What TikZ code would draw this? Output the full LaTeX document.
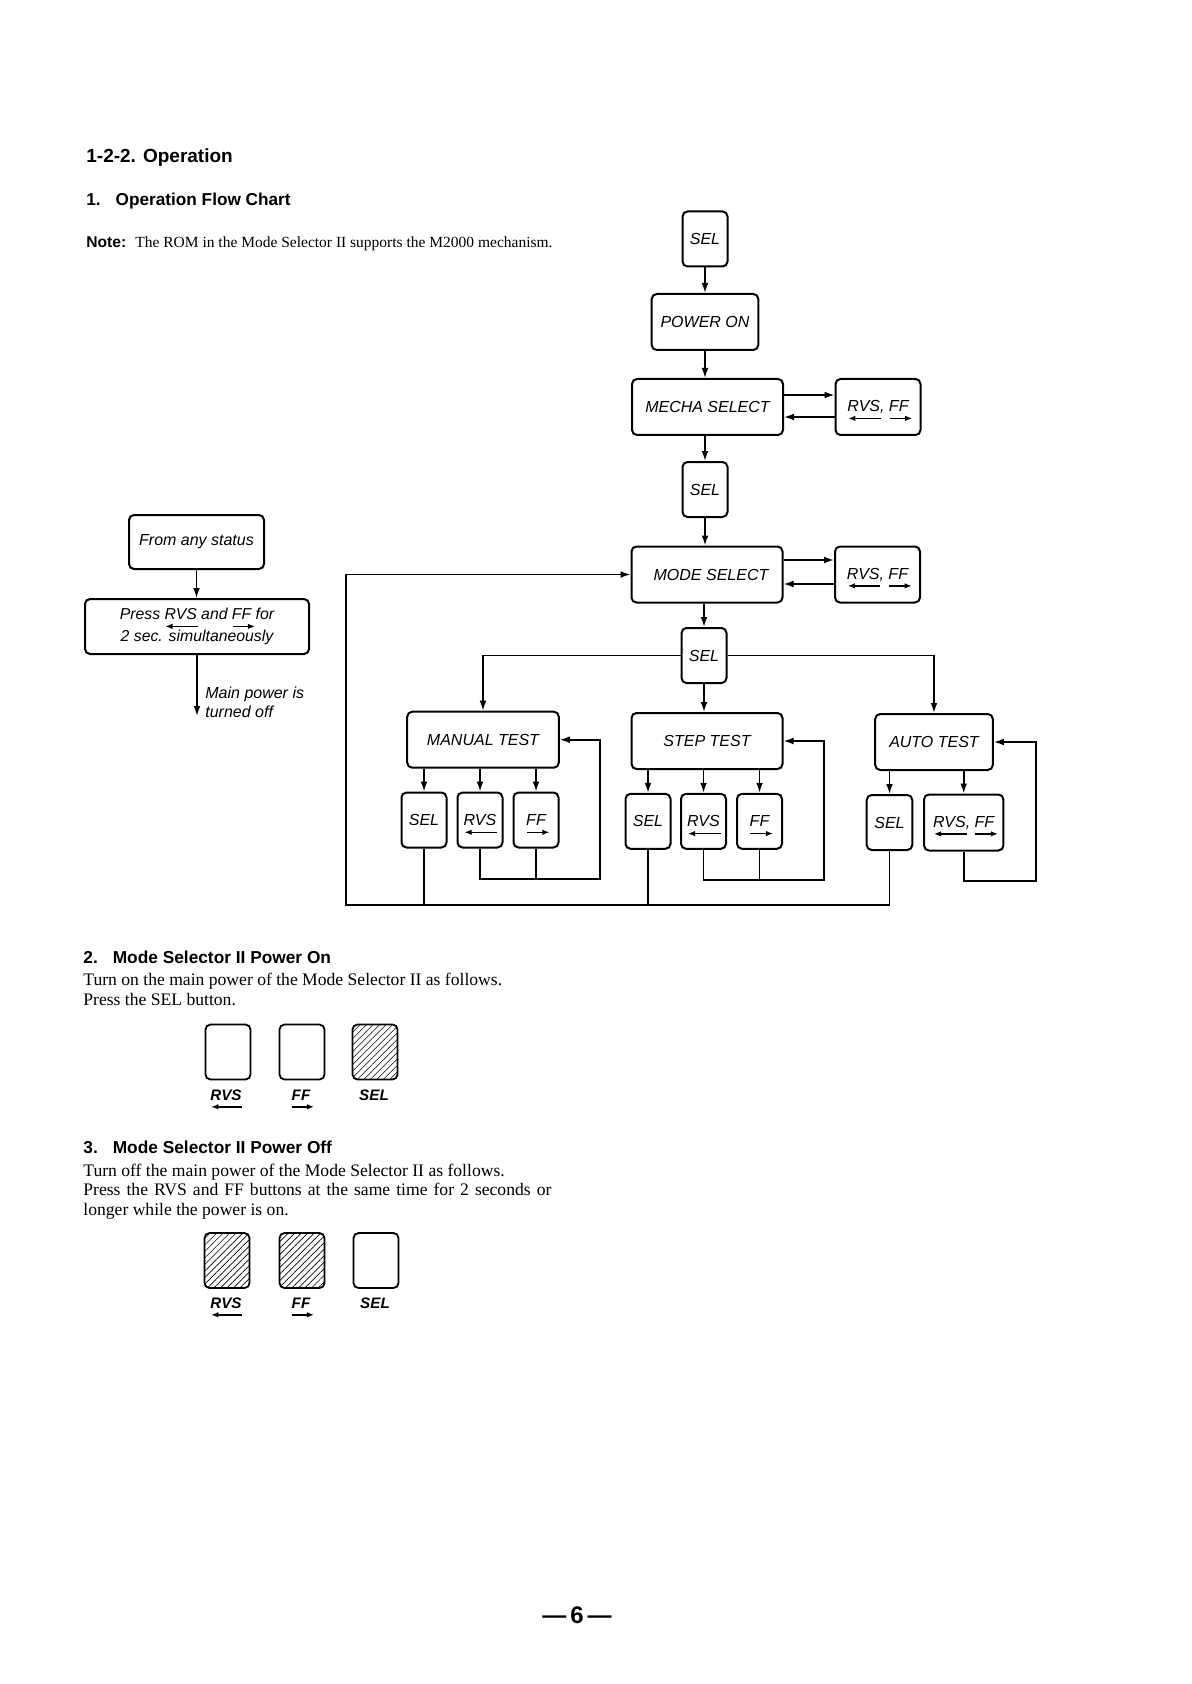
\documentclass[tikz,border=0pt]{standalone}
\usepackage{fontspec}
\setmainfont{Liberation Serif}
\setsansfont{Liberation Sans}
\usetikzlibrary{arrows.meta,patterns.meta,calc}
\newlength\arrlen
\newcommand\ulL[1]{\settowidth\arrlen{#1}\rlap{\smash{\raisebox{-3.4pt}{\tikz[baseline=0pt]\draw[{Latex[length=3.6pt,width=2.8pt]}-,line width=0.75pt] (0pt,0pt) -- (\arrlen,0pt);}}}#1}
\newcommand\ulR[1]{\settowidth\arrlen{#1}\rlap{\smash{\raisebox{-3.4pt}{\tikz[baseline=0pt]\draw[-{Latex[length=3.6pt,width=2.8pt]},line width=0.75pt] (0pt,0pt) -- (\arrlen+1.5pt,0pt);}}}#1}
\begin{document}
\begin{tikzpicture}[x=0.5pt,y=-0.5pt,
  box/.style={draw, rounded corners=2.5pt, line width=1pt, inner sep=0pt, align=center,
    font=\sffamily\itshape\fontsize{8}{10}\selectfont},
  selbox/.style={box, minimum width=22.5pt, minimum height=27.5pt},
  bigbox/.style={box, minimum width=75.5pt, minimum height=28pt},
  btn/.style={draw, rounded corners=2.5pt, line width=0.9pt, minimum width=22.5pt, minimum height=27.5pt, inner sep=0pt},
  hatched/.style={pattern={Lines[angle=45,distance=2.3pt,line width=0.3pt]}},
  lbl/.style={anchor=base, inner sep=0pt, font=\sffamily\bfseries\itshape\fontsize{7.6}{9}\selectfont},
  arr/.style={-{Latex[length=5pt,width=3.4pt]}, line width=0.8pt},
  ln/.style={line width=0.8pt},
  head/.style={anchor=base west, inner sep=0pt, font=\sffamily\bfseries\fontsize{8.6}{10}\selectfont},
  body/.style={anchor=base west, inner sep=0pt, font=\rmfamily\fontsize{8.8}{10}\selectfont}
]
\useasboundingbox (0,0) rectangle (1191,1684);
\fill[white] (0,0) rectangle (1191,1684);

% ---- headings ----
\node[head, font=\sffamily\bfseries\fontsize{9.5}{11}\selectfont] (h1) at (86,163) {1-2-2. Operation};
\node[head] (h2) at (86,206) {1.\hspace{7.5pt}Operation Flow Chart};
\node[anchor=base west, inner sep=0pt, font=\sffamily\bfseries\fontsize{7.8}{9}\selectfont] (note) at (86,248) {Note:};
\node[anchor=base west, inner sep=0pt, font=\rmfamily\fontsize{7.75}{9}\selectfont] (notetxt) at (135,248) {The ROM in the Mode Selector II supports the M2000 mechanism.};

% ---- main column ----
\node[selbox] (sel1) at (705,239) {SEL};
\node[box, minimum width=53.3pt, minimum height=28pt] (pwr) at (705,322) {POWER ON};
\node[bigbox] (mecha) at (707.5,407) {MECHA SELECT};
\node[box, minimum width=42.5pt, minimum height=28pt] (rf1) at (878,407) {\ulL{RVS}, \ulR{FF}};
\node[selbox] (sel2) at (705,489.5) {SEL};
\node[bigbox] (mode) at (707,574.5) {\hspace{4pt}MODE SELECT};
\node[box, minimum width=42.5pt, minimum height=28pt] (rf2) at (877.5,574.5) {\ulL{RVS}, \ulR{FF}};
\node[selbox] (sel3) at (704,655.5) {SEL};

\node[bigbox, minimum width=75.8pt] (manual) at (483,739.7) {MANUAL TEST};
\node[bigbox] (step) at (707,741) {STEP TEST};
\node[box, minimum width=58.8pt, minimum height=28pt] (auto) at (934,742) {AUTO TEST};

\node[selbox] (mSel) at (424,820) {SEL};
\node[selbox] (mRvs) at (480,820) {\ulL{RVS}};
\node[selbox] (mFF) at (536,820) {\ulR{FF}};
\node[selbox] (sSel) at (648,821.3) {SEL};
\node[selbox] (sRvs) at (703.5,821.3) {\ulL{RVS}};
\node[selbox] (sFF) at (759.5,821.3) {\ulR{FF}};
\node[selbox, minimum width=22.8pt] (aSel) at (889.5,822.5) {SEL};
\node[box, minimum width=39.7pt, minimum height=28pt] (aRF) at (963.7,822.5) {\ulL{RVS}, \ulR{FF}};

% main arrows
\draw[arr] (sel1.south) -- (sel1.south |- pwr.north);
\draw[arr] (pwr.south) -- (pwr.south |- mecha.north);
\draw[arr] (sel2.north |- mecha.south) -- (sel2.north);
\draw[arr] (sel2.south) -- (sel2.south |- mode.north);
\draw[arr] (sel3.north |- mode.south) -- (sel3.north);
\draw[arr] (sel3.south) -- (sel3.south |- step.north);
\draw[arr] (mecha.east |- 0,395) -- (rf1.west |- 0,395);
\draw[arr] (rf1.west |- 0,417) -- (mecha.east |- 0,417);
\draw[arr] (mode.east |- 0,560) -- (rf2.west |- 0,560);
\draw[arr] (rf2.west |- 0,584) -- (mode.east |- 0,584);
\draw[arr] (sel3.west) -| (manual.north);
\draw[arr] (sel3.east) -| (auto.north);

\foreach \c in {mSel,mRvs,mFF} \draw[arr] (\c.north |- manual.south) -- (\c.north);
\foreach \c in {sSel,sRvs,sFF} \draw[arr] (\c.north |- step.south) -- (\c.north);
\foreach \c in {aSel,aRF} \draw[arr] (\c.north |- auto.south) -- (\c.north);

% loops
\coordinate (mLoop) at (600,879);
\coordinate (sLoop) at (824,880);
\coordinate (aLoop) at (1036,881);
\coordinate (bl) at (346,905);
\draw[arr] (mRvs.south) |- (mLoop) |- (manual.east);
\draw[ln] (mFF.south) -- (mFF.south |- mLoop);
\draw[arr] (sRvs.south) |- (sLoop) |- (step.east);
\draw[ln] (sFF.south) -- (sFF.south |- sLoop);
\draw[arr] (aRF.south) |- (aLoop) |- (auto.east);
\draw[arr] (aSel.south) |- (bl) |- (mode.west);
\draw[ln] (mSel.south) -- (mSel.south |- bl);
\draw[ln] (sSel.south) -- (sSel.south |- bl);

% ---- left part ----
\node[box, minimum width=67.5pt, minimum height=27pt] (anyst) at (196.5,542) {\raisebox{-1.5pt}{From any status}};
\node[box, minimum width=112pt, minimum height=27.5pt, font=\sffamily\itshape\fontsize{7.9}{11}\selectfont] (press) at (197,626.5) {Press \ulL{RVS} and \ulR{FF} for\\2 sec. simultaneously};
\draw[arr] (anyst.south) -- (anyst.south |- press.north);
\coordinate (offend) at (196,716);
\draw[arr] (press.south) -- (press.south |- offend);
\node[anchor=west, align=left, inner sep=0pt, font=\sffamily\itshape\fontsize{8}{9.3}\selectfont] (offtxt) at (205,702) {Main power is\\turned off};

% ---- section 2 ----
\node[head, font=\sffamily\bfseries\fontsize{8.65}{10}\selectfont] (s2) at (83,963) {2.\hspace{7.5pt}Mode Selector II Power On};
\node[body] (s2a) at (83,985) {Turn on the main power of the Mode Selector II as follows.};
\node[body] (s2b) at (83,1005) {Press the SEL button.};
\node[btn] (b2r) at (228,1052) {};
\node[btn] (b2f) at (302,1052) {};
\node[btn, hatched] (b2s) at (375,1052) {};
\node[lbl] (l2r) at (226,1100) {\ulL{RVS}};
\node[lbl] (l2f) at (301,1100) {\ulR{FF}};
\node[lbl] (l2s) at (374,1100) {SEL};

% ---- section 3 ----
\node[head, font=\sffamily\bfseries\fontsize{8.65}{10}\selectfont] (s3) at (83,1153) {3.\hspace{7.5pt}Mode Selector II Power Off};
\node[body] (s3a) at (83,1176.7) {Turn off the main power of the Mode Selector II as follows.};
\node[body] (s3b) at (83,1195.7) {\makebox[234pt][s]{Press the RVS and FF buttons at the same time for 2 seconds or}};
\node[body] (s3c) at (83,1215) {longer while the power is on.};
\node[btn, hatched] (b3r) at (227,1260.5) {};
\node[btn, hatched] (b3f) at (302,1260.5) {};
\node[btn] (b3s) at (376,1260.5) {};
\node[lbl] (l3r) at (226,1308) {\ulL{RVS}};
\node[lbl] (l3f) at (301,1308) {\ulR{FF}};
\node[lbl] (l3s) at (375,1308) {SEL};

% ---- page number ----
\node[inner sep=0pt, font=\sffamily\bfseries\fontsize{12}{14}\selectfont] (pg) at (577,1615) {—\hspace{2pt}6\hspace{2pt}—};
\end{tikzpicture}
\end{document}
